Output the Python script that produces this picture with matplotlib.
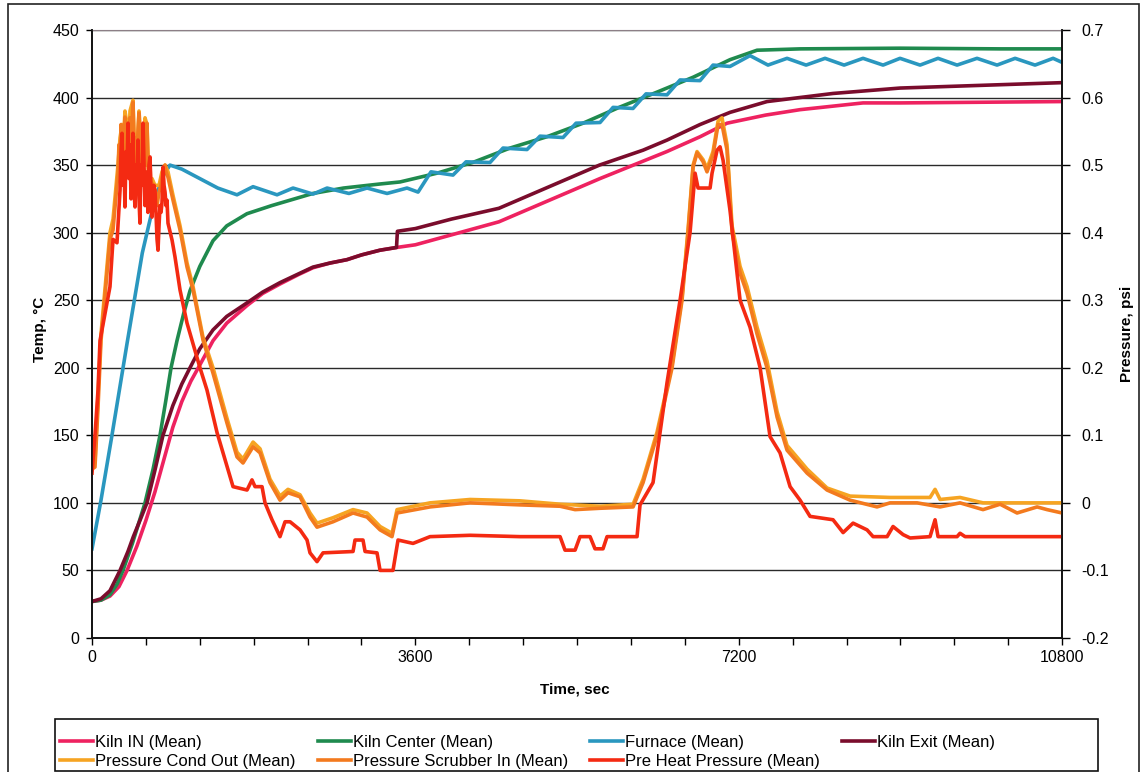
import matplotlib.pyplot as plt
from matplotlib.ticker import MultipleLocator
from matplotlib.patches import Rectangle

plt.rcParams['font.family'] = ['Liberation Sans', 'DejaVu Sans']

# --- температуры печи, °C (время в секундах) ---
kiln_in_t = [0, 100, 200, 300, 390, 500, 600, 700, 800, 900, 1000, 1100, 1200, 1347,
             1500, 1725, 1900, 2093, 2300, 2460, 2650, 2839, 3000, 3206, 3390, 3600,
             4530, 5655, 6400, 6771, 7070, 7500, 7882, 8584, 9000, 10800]
kiln_in = [27, 28, 31, 38, 50, 68, 87, 108, 132, 156, 175, 190, 202, 220,
           233, 246, 255, 262, 269, 274, 277.5, 280, 283.5, 287, 289, 291,
           308, 340, 360, 371, 381, 387, 391, 396, 396, 397]

kiln_center_t = [0, 100, 200, 280, 345, 450, 590, 680, 757, 820, 880, 946, 1020, 1091,
                 1200, 1347, 1500, 1725, 2000, 2460, 2800, 3206, 3429,
                 3841, 4242, 4654, 5066, 5467, 5879, 6291, 6692, 7103, 7404, 7883,
                 8996, 10110, 10800]
kiln_center = [27, 28, 32, 40, 50, 70, 100, 125, 150, 175, 200, 220, 240, 257,
               275, 294, 305, 314, 320, 329, 333, 336, 337.5,
               344, 352, 362.6, 371, 381, 393, 404, 415, 428, 435, 436,
               436.5, 436, 436]

furnace_t = [0, 100, 222, 390, 560, 700, 800, 868, 1000, 1200, 1400, 1614, 1793,
             2060, 2238, 2461, 2617, 2860, 3062, 3285, 3507, 3630, 3774, 4019,
             4164, 4431, 4576, 4843, 4988, 5244, 5389, 5656, 5801, 6023, 6168,
             6402, 6547, 6769, 6914, 7103, 7326, 7526, 7738, 7950, 8161, 8373,
             8584, 8807, 8996, 9219, 9419, 9631, 9853, 10076, 10277, 10499,
             10700, 10800]
furnace = [66, 102, 150, 218, 285, 325, 343, 350, 347, 340, 333, 328, 334,
           328, 333, 328.5, 333, 329, 333, 329, 333, 330, 345, 342.6,
           352.4, 351.9, 362.6, 361.5, 371.4, 370.4, 381, 381.5, 392.7, 391.9, 402.7,
           402, 413, 412.5, 424, 423, 431, 424, 429, 424, 429, 424,
           429, 424, 429, 424, 429, 424, 429, 424, 429, 424,
           429, 426]

kiln_exit_t = [0, 100, 200, 312, 400, 460, 540, 612, 700, 790, 900, 1000, 1091, 1200,
               1347, 1500, 1725, 1900, 2093, 2300, 2460, 2650, 2839, 3000, 3206,
               3390, 3400, 3600, 4000, 4530, 5650, 6134, 6402, 6769, 7103, 7515,
               8250, 8996, 10800]
kiln_exit = [27, 29, 35, 50, 64, 75, 88, 100, 124, 150, 172, 188, 200, 214,
             228, 238, 248, 256, 263, 269.5, 274.5, 277.5, 280, 283.5, 287,
             289, 301, 303, 310, 318, 350, 361, 368.5, 380, 389, 397,
             403, 407, 411]

# --- давление, psi ---
cond_out_t = [0, 33, 67, 100, 200, 234, 289, 312, 334, 356, 367, 390, 401, 423, 456,
              479, 501, 523, 545, 568, 590, 612, 634, 668, 701, 746, 779, 813, 846,
              902, 980, 1058, 1125, 1236, 1347, 1503, 1614,
              1681, 1793, 1871, 1982, 2093, 2182, 2316, 2427, 2505, 2683, 2906, 3062,
              3207, 3340, 3396, 3763, 4209, 4765, 5211, 5656, 6024, 6135, 6291, 6458,
              6569, 6636, 6692, 6736, 6803, 6847, 6914, 6970, 7014, 7070, 7126, 7215,
              7293, 7404, 7515, 7627, 7738, 7961, 8183, 8440, 8885, 9330, 9386, 9442,
              9664, 9920, 10800]
cond_out = [0.06, 0.06, 0.16, 0.25, 0.40, 0.42, 0.5, 0.54, 0.56, 0.55, 0.58, 0.56, 0.5, 0.58, 0.596,
            0.5, 0.52, 0.58, 0.54, 0.5, 0.57, 0.56, 0.48, 0.48, 0.47, 0.47, 0.49, 0.5, 0.49,
            0.455, 0.41, 0.355, 0.32, 0.245, 0.2, 0.125, 0.075,
            0.065, 0.09, 0.08, 0.035, 0.01, 0.02, 0.012, -0.015, -0.03, -0.022, -0.01, -0.015,
            -0.035, -0.045, -0.01, 0.0, 0.005, 0.003, -0.002, -0.005, -0.002, 0.035, 0.105, 0.205,
            0.305, 0.405, 0.5, 0.52, 0.508, 0.495, 0.52, 0.565, 0.57, 0.53, 0.41, 0.35,
            0.32, 0.26, 0.21, 0.135, 0.085, 0.05, 0.022, 0.01, 0.008, 0.008, 0.02, 0.005,
            0.008, 0.0, 0.0]

scrubber_t = [0, 33, 67, 100, 200, 234, 289, 300, 312, 323, 334, 345, 356, 367, 378,
              390, 401, 412, 423, 434, 445, 456, 468, 479, 490, 501, 512, 523, 534,
              545, 557, 568, 579, 590, 601, 612, 623, 634, 646, 657, 668, 679, 690,
              701, 724, 746, 768, 779, 791, 813, 824, 846,
              902, 980, 1058, 1125, 1236, 1347, 1503, 1614,
              1681, 1793, 1871, 1982, 2093, 2182, 2316, 2427, 2505, 2683, 2906, 3062,
              3207, 3340, 3396, 3763, 4209, 4765, 5211, 5378, 5656, 6024, 6135, 6291,
              6458, 6569, 6636, 6692, 6736, 6803, 6847, 6914, 6970, 7014, 7070, 7126,
              7215, 7293, 7404, 7515, 7627, 7738, 7961, 8183, 8440, 8740, 8885, 9186,
              9442, 9664, 9920, 10110, 10299, 10522, 10633, 10800]
scrubber = [0.05, 0.053, 0.142, 0.24, 0.39, 0.404, 0.488, 0.53, 0.5, 0.56, 0.547, 0.5, 0.54, 0.571, 0.52,
            0.55, 0.488, 0.54, 0.57, 0.5, 0.55, 0.593, 0.53, 0.49, 0.54, 0.512, 0.55, 0.577, 0.5,
            0.53, 0.5, 0.488, 0.53, 0.56, 0.5, 0.562, 0.5, 0.47, 0.5, 0.46, 0.473, 0.44, 0.46,
            0.463, 0.44, 0.46, 0.47, 0.482, 0.495, 0.5, 0.49, 0.482,
            0.448, 0.404, 0.349, 0.315, 0.241, 0.192, 0.118, 0.068,
            0.059, 0.083, 0.074, 0.03, 0.004, 0.015, 0.009, -0.021, -0.036, -0.028, -0.015, -0.021,
            -0.04, -0.05, -0.015, -0.006, 0.0, -0.003, -0.005, -0.01, -0.008, -0.006, 0.03, 0.1,
            0.2, 0.3, 0.4, 0.497, 0.518, 0.505, 0.49, 0.515, 0.56, 0.56, 0.522, 0.4,
            0.34, 0.31, 0.25, 0.2, 0.127, 0.078, 0.044, 0.019, 0.004, -0.006, 0.0, 0.0,
            -0.006, 0.0, -0.01, -0.002, -0.015, -0.006, -0.01, -0.015]

pre_heat_t = [0, 33, 67, 89, 200, 234, 278, 312, 323, 334, 345, 356, 367, 378, 390,
              401, 412, 423, 434, 445, 456, 468, 479, 490, 501, 512, 523, 534, 545,
              557, 568, 579, 590, 601, 612, 623, 634, 646, 657, 668, 679, 690, 701,
              712, 724, 735, 746, 757, 768, 779, 791, 802, 813, 824, 835, 846, 891,
              924, 980, 1058, 1113, 1202, 1280, 1392, 1459, 1570, 1726, 1781, 1815,
              1893, 1926, 2004, 2093, 2149, 2205, 2316, 2394, 2427, 2505, 2572, 2906,
              2928, 3017, 3040, 3173, 3207, 3351, 3407, 3574, 3763, 4209, 4765, 5211,
              5266, 5378, 5433, 5545, 5600, 5689, 5734, 6068, 6101, 6246, 6402, 6547,
              6658, 6714, 6747, 6881, 6903, 6959, 6992, 7026, 7103, 7215, 7326, 7438,
              7549, 7660, 7772, 7883, 7994, 8250, 8362, 8473, 8629, 8696, 8852, 8918,
              9030, 9108, 9330, 9386, 9419, 9631, 9664, 9720, 10800]
pre_heat = [0.044, 0.10, 0.167, 0.24, 0.32, 0.39, 0.385, 0.463, 0.52, 0.547, 0.47, 0.5, 0.438, 0.52, 0.49,
            0.562, 0.48, 0.53, 0.45, 0.463, 0.547, 0.46, 0.438, 0.5, 0.47, 0.537, 0.45, 0.414, 0.5,
            0.47, 0.562, 0.5, 0.44, 0.49, 0.463, 0.43, 0.5, 0.512, 0.46, 0.423, 0.45, 0.47, 0.463,
            0.43, 0.39, 0.374, 0.41, 0.44, 0.43, 0.444, 0.497, 0.47, 0.46, 0.44, 0.448, 0.414, 0.389,
            0.364, 0.315, 0.266, 0.241, 0.2, 0.167, 0.104, 0.074, 0.024, 0.019, 0.034, 0.024,
            0.024, 0.0, -0.025, -0.05, -0.028, -0.028, -0.04, -0.055, -0.074, -0.087, -0.074, -0.072,
            -0.055, -0.055, -0.072, -0.074, -0.1, -0.1, -0.055, -0.06, -0.05, -0.048, -0.05, -0.05,
            -0.07, -0.07, -0.05, -0.05, -0.068, -0.068, -0.05, -0.05, -0.003, 0.03, 0.178, 0.3,
            0.4, 0.488, 0.466, 0.466, 0.488, 0.522, 0.527, 0.507, 0.433, 0.3, 0.26, 0.2,
            0.098, 0.074, 0.024, 0.004, -0.02, -0.025, -0.044, -0.03, -0.04, -0.05, -0.05, -0.035,
            -0.047, -0.052, -0.05, -0.025, -0.05, -0.05, -0.045, -0.05, -0.05]

x_ticks = [0, 3600, 7200, 10800]
t_ticks = [0, 50, 100, 150, 200, 250, 300, 350, 400, 450]
p_ticks = [-0.2, -0.1, 0, 0.1, 0.2, 0.3, 0.4, 0.5, 0.6, 0.7]
p_labels = ['-0.2', '-0.1', '0', '0.1', '0.2', '0.3', '0.4', '0.5', '0.6', '0.7']

fig = plt.figure(figsize=(11.43, 7.72), dpi=100)
ax = fig.add_axes([0.0805, 0.1736, 0.8487, 0.7876])
ax2 = ax.twinx()

lw = 2.6
h1, = ax.plot(kiln_in_t, kiln_in, color='#EE2260', lw=lw, label='Kiln IN (Mean)')
h2, = ax.plot(kiln_center_t, kiln_center, color='#1F8A4E', lw=lw, label='Kiln Center (Mean)')
h3, = ax.plot(furnace_t, furnace, color='#2A97BF', lw=lw, label='Furnace (Mean)')
h4, = ax.plot(kiln_exit_t, kiln_exit, color='#7A0C2C', lw=lw, label='Kiln Exit (Mean)')
h5, = ax2.plot(cond_out_t, cond_out, color='#F6A422', lw=lw, label='Pressure Cond Out (Mean)')
h6, = ax2.plot(scrubber_t, scrubber, color='#F37A1E', lw=lw, label='Pressure Scrubber In (Mean)')
h7, = ax2.plot(pre_heat_t, pre_heat, color='#F42A12', lw=lw, label='Pre Heat Pressure (Mean)')

ax.set_xlim(0, 10800)
ax.set_ylim(0, 450)
ax2.set_ylim(-0.2, 0.7)

ax.set_xticks(x_ticks)
ax.xaxis.set_minor_locator(MultipleLocator(600))
ax.set_yticks(t_ticks)
ax2.set_yticks(p_ticks)
ax2.set_yticklabels(p_labels)

ax.yaxis.grid(True, color='#2a2a2a', lw=1.0)
ax.set_axisbelow(True)

ax.tick_params(axis='x', which='both', direction='out', length=5, width=1, labelsize=11.5, pad=4)
ax.tick_params(axis='y', direction='out', length=4, width=1, labelsize=11.5, pad=5)
ax2.tick_params(axis='y', direction='out', length=6, width=1, labelsize=11.5, pad=8)

for a in (ax, ax2):
    a.spines['top'].set_color('#8c7f86')
    for s in ('left', 'right', 'bottom'):
        a.spines[s].set_linewidth(1.2)
        a.spines[s].set_color('#111111')
ax2.spines['top'].set_visible(False)

ax.set_xlabel('Time, sec', fontsize=11, fontweight='bold')
ax.xaxis.set_label_coords(0.498, -0.074)
ax.set_ylabel('Temp, °C', fontsize=11, fontweight='bold')
ax.yaxis.set_label_coords(-0.046, 0.507)
ax2.set_ylabel('Pressure, psi', fontsize=11, fontweight='bold', rotation=90)
ax2.yaxis.set_label_coords(1.060, 0.50)

# внешняя рамка и рамка легенды
fig.patches.append(Rectangle((8 / 1143, -0.1), 1131 / 1143, 1.1 - 4 / 772,
                             transform=fig.transFigure, fill=False, lw=1.2,
                             edgecolor='#222222', clip_on=False))
fig.patches.append(Rectangle((55 / 1143, 1 / 772), 1043 / 1143, 52 / 772,
                             transform=fig.transFigure, fill=False, lw=1.2,
                             edgecolor='#111111'))

handles = [h1, h5, h2, h6, h3, h7, h4]
fig.legend(handles, [h.get_label() for h in handles], ncol=4,
           loc='upper left', bbox_to_anchor=(60 / 1143, 1 - 735 / 772),
           frameon=False, fontsize=12, handlelength=2.0, handletextpad=0.12,
           columnspacing=1.3, labelspacing=0.22, borderpad=0, borderaxespad=0)

plt.savefig('out.png', dpi=100)
